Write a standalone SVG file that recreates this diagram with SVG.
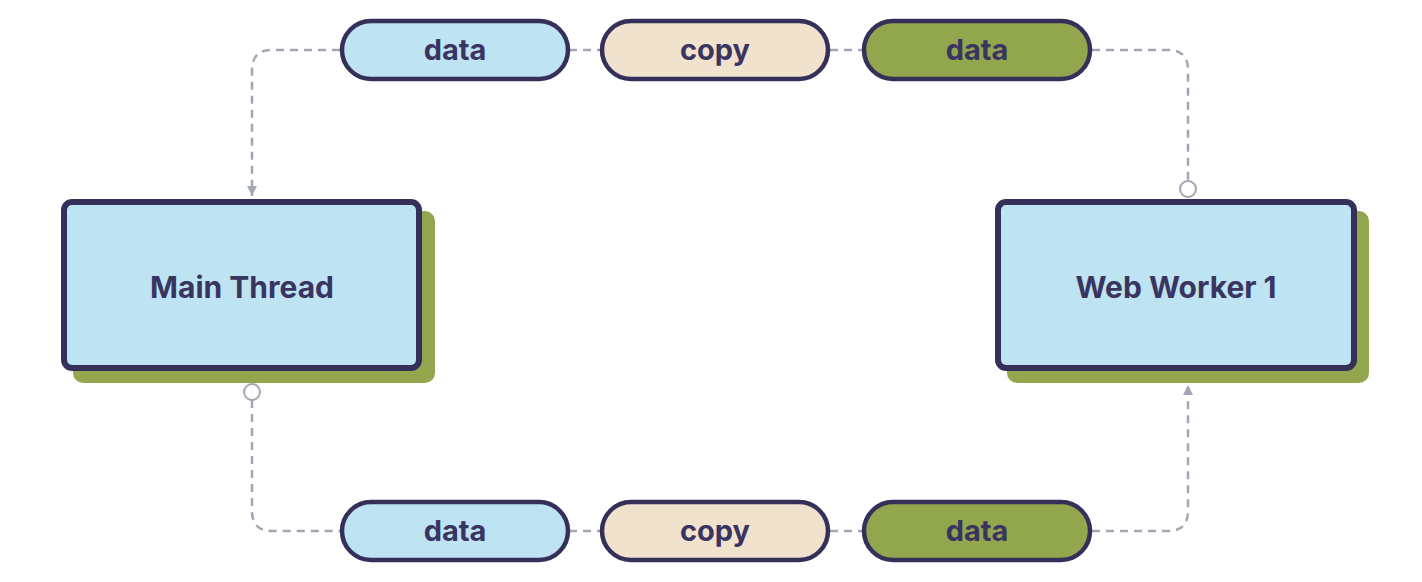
<svg xmlns="http://www.w3.org/2000/svg" width="1422" height="582" viewBox="0 0 1422 582">
<style>
.conn{fill:none;stroke:#a3a7b3;stroke-width:2.5;stroke-dasharray:8 6}
.pill{stroke:#35305a;stroke-width:4.5}
.box{fill:#bee3f2;stroke:#35305a;stroke-width:6}
.shadow{fill:#92a64e}
.t{font-family:Inter,Roboto,"Liberation Sans",sans-serif;font-weight:bold;fill:#3a3560;text-anchor:middle;dominant-baseline:central}
.blue{fill:#bee3f2}.beige{fill:#f0e2cd}.green{fill:#92a64e}
.dot{fill:#fff;stroke:#a3a7b3;stroke-width:2}
</style>
<defs>
<marker id="arr" viewBox="0 0 10 10" refX="10" refY="5" markerWidth="10" markerHeight="10" markerUnits="userSpaceOnUse" orient="auto">
<path d="M0,0 L10,5 L0,10 z" fill="#a3a7b3"/>
</marker>
</defs>
<g id="connectors">
<path class="conn" d="M340,50 H272 Q252,50 252,70 V196" marker-end="url(#arr)"/>
<path class="conn" d="M569,50 H600"/>
<path class="conn" d="M830,50 H862"/>
<path class="conn" d="M1092,50 H1168 Q1188,50 1188,70 V181"/>
<circle class="dot" cx="1188" cy="189" r="8"/>
<circle class="dot" cx="252" cy="392" r="8"/>
<path class="conn" d="M252,400 V511 Q252,531 272,531 H340"/>
<path class="conn" d="M569,531 H600"/>
<path class="conn" d="M830,531 H862"/>
<path class="conn" d="M1092,531 H1168 Q1188,531 1188,511 V385" marker-end="url(#arr)"/>
</g>
<g id="main-thread">
<rect class="shadow" x="73" y="211" width="362" height="172" rx="10"/>
<rect class="box" x="64" y="202" width="355" height="166" rx="8"/>
<text class="t" x="242" y="287" font-size="30">Main Thread</text>
</g>
<g id="web-worker-1">
<rect class="shadow" x="1007" y="211" width="362" height="172" rx="10"/>
<rect class="box" x="998" y="202" width="356" height="166" rx="8"/>
<text class="t" x="1176" y="287" font-size="30">Web Worker 1</text>
</g>
<g id="top-data-1">
<rect class="pill blue" x="342" y="21" width="226" height="58" rx="29"/>
<text class="t" x="455" y="49" font-size="29">data</text>
</g>
<g id="top-copy">
<rect class="pill beige" x="602" y="21" width="226" height="58" rx="29"/>
<text class="t" x="715" y="49" font-size="29">copy</text>
</g>
<g id="top-data-2">
<rect class="pill green" x="864" y="21" width="226" height="58" rx="29"/>
<text class="t" x="977" y="49" font-size="29">data</text>
</g>
<g id="bottom-data-1">
<rect class="pill blue" x="342" y="502" width="226" height="58" rx="29"/>
<text class="t" x="455" y="530" font-size="29">data</text>
</g>
<g id="bottom-copy">
<rect class="pill beige" x="602" y="502" width="226" height="58" rx="29"/>
<text class="t" x="715" y="530" font-size="29">copy</text>
</g>
<g id="bottom-data-2">
<rect class="pill green" x="864" y="502" width="226" height="58" rx="29"/>
<text class="t" x="977" y="530" font-size="29">data</text>
</g>
</svg>
